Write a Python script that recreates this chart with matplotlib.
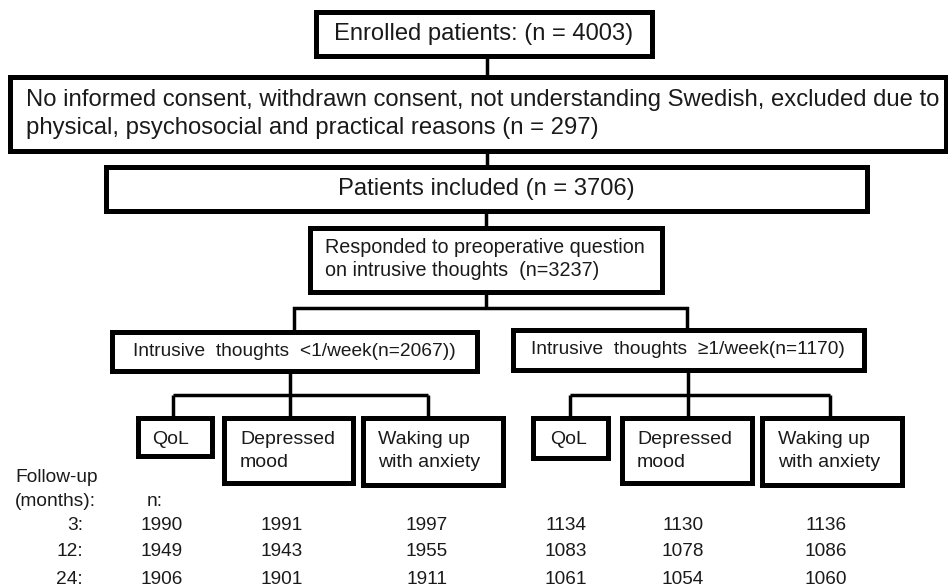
import matplotlib.pyplot as plt
from matplotlib.patches import Rectangle

# ---- Data ----
enrolled_n = 4003
excluded_n = 297
included_n = 3706
responded_n = 3237
low_n = 2067
high_n = 1170

outcomes = ["QoL", "Depressed\nmood", "Waking up\nwith anxiety"]
followup_months = [3, 12, 24]
# rows = follow-up, columns = outcomes
n_low = [[1990, 1991, 1997],
         [1949, 1943, 1955],
         [1906, 1901, 1911]]
n_high = [[1134, 1130, 1136],
          [1083, 1078, 1086],
          [1061, 1054, 1060]]

FONT = "Liberation Sans"
TXT = "#1a1a1a"
BOX_LW = 3.6
LINE_LW = 2.5

fig = plt.figure(figsize=(9.48, 5.88), dpi=100)
ax = fig.add_axes([0, 0, 1, 1])
ax.set_xlim(0, 948)
ax.set_ylim(588, 0)
ax.axis("off")


def box(x0, y0, x1, y1):
    ax.add_patch(Rectangle((x0, y0), x1 - x0, y1 - y0, fill=False,
                           edgecolor="black", linewidth=BOX_LW,
                           joinstyle="miter"))


def line(xs, ys):
    ax.plot(xs, ys, color="black", linewidth=LINE_LW,
            solid_joinstyle="miter", solid_capstyle="butt")


def text(x, y, s, size, ha="left", va="center", ls=1.2):
    ax.text(x, y, s, fontsize=size, ha=ha, va=va, color=TXT,
            family=FONT, linespacing=ls)


# Top of the flow
box(316, 12, 652, 56)
text(484, 34, f"Enrolled patients: (n = {enrolled_n})", 17.1, ha="center")
line([487, 487], [56, 77])

box(10, 77, 946, 151)
text(26, 114, "No informed consent, withdrawn consent, not understanding Swedish, "
     "excluded due to\nphysical, psychosocial and practical reasons "
     f"(n = {excluded_n})", 17.2, ls=1.35)
line([487, 487], [151, 167])

box(106, 167, 867, 211)
text(486, 189, f"Patients included (n = {included_n})", 17.1, ha="center")
line([486, 486], [211, 228])

box(310, 228, 662, 292)
text(325, 259, "Responded to preoperative question\n"
     f"on intrusive thoughts  (n={responded_n})", 14.2, ls=1.3)

# Split into the two groups
line([486, 486], [292, 308])
line([294, 294, 687, 687], [332, 308, 308, 330])

box(112, 332, 477, 371)
text(294, 352, f"Intrusive  thoughts  <1/week(n={low_n}))", 13.8, ha="center")
box(513, 330, 864, 370)
text(688, 350, f"Intrusive  thoughts  \u22651/week(n={high_n})", 13.8, ha="center")

# Outcome boxes for each group
groups = [
    dict(stem=290, drops=[173, 290, 428],
         boxes=[(138, 212, 456), (224, 353, 483), (363, 503, 485)],
         text_x=[152, 240, 378], cols=[162, 282, 427], values=n_low),
    dict(stem=688, drops=[570, 688, 830],
         boxes=[(533, 608, 458), (622, 752, 483), (762, 902, 485)],
         text_x=[550, 637, 778], cols=[566, 683, 826], values=n_high),
]
row_y = [526, 552, 579]

for g in groups:
    line([g["stem"], g["stem"]], [371, 395])
    line([g["drops"][0], g["drops"][-1]], [395, 395])
    for xd in g["drops"]:
        line([xd, xd], [395, 418])
    for (x0, x1, y1), tx, label in zip(g["boxes"], g["text_x"], outcomes):
        box(x0, 418, x1, y1)
        text(tx, 431, label, 14, va="top", ls=1.45)
    for r, yy in enumerate(row_y):
        for c, xc in enumerate(g["cols"]):
            text(xc, yy, str(g["values"][r][c]), 13.7, ha="center")

# Follow-up labels
text(15, 478, "Follow-up", 13.8)
text(15, 502, "(months):", 13.8)
text(147, 502, "n:", 13.8)
for m, yy in zip(followup_months, row_y):
    text(83, yy, f"{m}:", 13.8, ha="right")

fig.savefig("out.png", dpi=100, facecolor="white")
